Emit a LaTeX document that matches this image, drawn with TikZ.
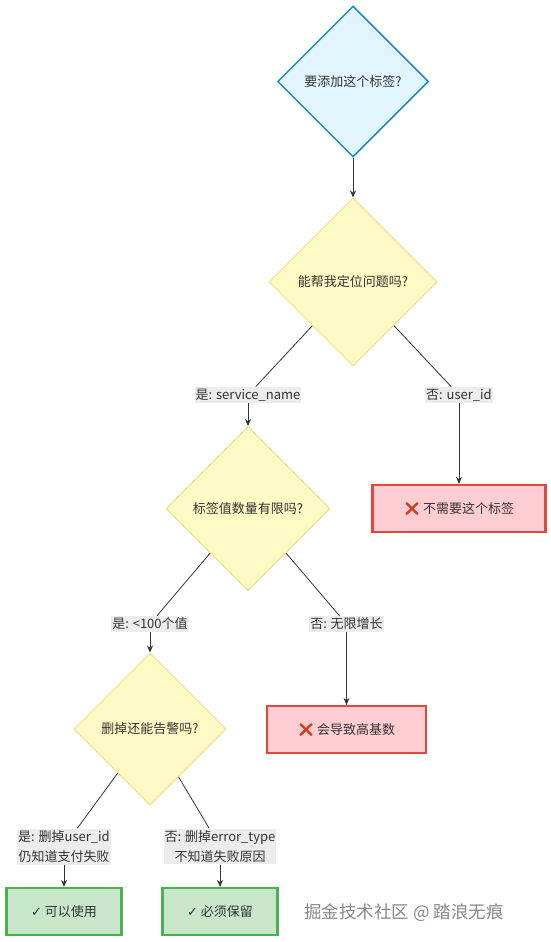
\documentclass[tikz,border=0pt]{standalone}
\usepackage{fontspec}
\setmainfont{Noto Sans CJK SC}
\newfontfamily\emojifont{Noto Emoji}
\newfontfamily\dvfont{DejaVu Sans}
\usetikzlibrary{shapes.geometric,arrows.meta}
\definecolor{bfill}{HTML}{E1F5FE}
\definecolor{bdraw}{HTML}{1E88C8}
\definecolor{yfill}{HTML}{FFF9C4}
\definecolor{ydraw}{HTML}{EADF8E}
\definecolor{rfill}{HTML}{FFCDD2}
\definecolor{rdraw}{HTML}{E0483E}
\definecolor{gfill}{HTML}{C8E6C9}
\definecolor{gdraw}{HTML}{4CAF50}
\definecolor{txt}{HTML}{333333}
\definecolor{lblfill}{HTML}{ECECEC}
\definecolor{xred}{HTML}{D23A1E}
\definecolor{wm}{HTML}{888888}
\begin{document}
\begin{tikzpicture}[x=1pt,y=-1pt,
  basefont/.style={font=\fontsize{13}{17}\selectfont, text=txt},
  decision/.style={basefont, shape=diamond, draw=ydraw, fill=yfill, line width=1pt, inner sep=0pt, minimum width=#1, minimum height=#1},
  startdec/.style={decision=#1, draw=bdraw, fill=bfill, line width=1.5pt},
  badbox/.style={basefont, draw=rdraw, fill=rfill, line width=2.2pt, minimum height=47, minimum width=#1},
  goodbox/.style={basefont, draw=gdraw, fill=gfill, line width=2.2pt, minimum height=47, minimum width=#1},
  elabel/.style={basefont, fill=lblfill, inner xsep=1pt, inner ysep=2pt, align=center, font=\fontsize{13}{20}\selectfont},
  conn/.style={draw=txt, line width=0.8pt},
  arr/.style={conn, -{Stealth[length=7pt,width=6pt]}},
]
\useasboundingbox (0,0) rectangle (551,942);
\fill[white] (0,0) rectangle (551,942);

\node[startdec=151] (d1) at (353,81.5) {要添加这个标签?};
\node[decision=168] (d2) at (353,282) {能帮我定位问题吗?};
\node[decision=164] (d3) at (248,508.5) {标签值数量有限吗?};
\node[decision=152] (d4) at (150,729) {删掉还能告警吗?};

\node[elabel] (l1) at (248,395) {是: service\_name};
\node[elabel] (l2) at (459,395) {否: user\_id};
\node[elabel] (l3) at (150,624) {是: <100个值};
\node[elabel] (l4) at (346.5,624) {否: 无限增长};
\node[elabel] (l5) at (64,846.5) {是: 删掉user\_id\\仍知道支付失败};
\node[elabel] (l6) at (220,846.5) {否: 删掉error\_type\\不知道失败原因};

\node[badbox=173] (r1) at (459,508.5) {{\emojifont\textcolor{xred}{❌}}\ 不需要这个标签};
\node[badbox=159] (r2) at (346.5,729.5) {{\emojifont\textcolor{xred}{❌}}\ 会导致高基数};
\node[goodbox=115] (g1) at (64,911.5) {{\dvfont\fontsize{13}{15}\selectfont ✓} 可以使用};
\node[goodbox=115] (g2) at (220,911.5) {{\dvfont\fontsize{13}{15}\selectfont ✓} 必须保留};

\draw[arr] (d1) -- (d2);
\draw[conn] (d2) -- (l1);
\draw[arr] (l1) -- (d3);
\draw[conn] (d2) -- (l2);
\draw[arr] (l2) -- (r1);
\draw[conn] (d3) -- (l3);
\draw[arr] (l3) -- (d4);
\draw[conn] (d3) -- (l4);
\draw[arr] (l4) -- (r2);
\draw[conn] (d4) -- (l5);
\draw[arr] (l5) -- (g1);
\draw[conn] (d4) -- (l6);
\draw[arr] (l6) -- (g2);

\node[font=\fontsize{17.5}{20}\selectfont, text=wm, inner sep=0pt] (wmark) at (404,913) {掘金技术社区 @ 踏浪无痕};
\end{tikzpicture}
\end{document}
